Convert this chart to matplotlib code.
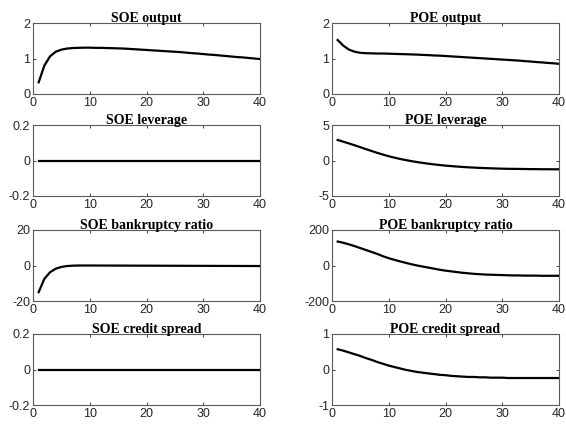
import numpy as np
import matplotlib
matplotlib.use("Agg")
import matplotlib.pyplot as plt

plt.rcParams['axes.unicode_minus'] = False

t = np.arange(1, 41)

soe_output = [0.33, 0.80, 1.06, 1.19, 1.25, 1.28, 1.295, 1.30, 1.305, 1.305,
              1.30, 1.30, 1.295, 1.29, 1.285, 1.28, 1.27, 1.26, 1.25, 1.24,
              1.23, 1.22, 1.21, 1.20, 1.19, 1.18, 1.165, 1.15, 1.14, 1.125,
              1.11, 1.10, 1.085, 1.07, 1.055, 1.04, 1.03, 1.015, 1.00, 0.985]
poe_output = [1.52, 1.36, 1.25, 1.19, 1.16, 1.15, 1.145, 1.14, 1.14, 1.135,
              1.13, 1.125, 1.12, 1.115, 1.11, 1.10, 1.095, 1.085, 1.08, 1.07,
              1.06, 1.05, 1.04, 1.03, 1.02, 1.01, 1.00, 0.99, 0.98, 0.97,
              0.96, 0.95, 0.94, 0.925, 0.915, 0.90, 0.89, 0.875, 0.865, 0.85]
soe_leverage = [0.0] * 40
poe_leverage = [2.89, 2.65, 2.40, 2.14, 1.87, 1.60, 1.33, 1.07, 0.83, 0.60,
                0.40, 0.22, 0.06, -0.09, -0.22, -0.34, -0.45, -0.55, -0.64, -0.72,
                -0.79, -0.85, -0.91, -0.96, -1.00, -1.04, -1.07, -1.10, -1.13, -1.15,
                -1.17, -1.18, -1.19, -1.20, -1.21, -1.22, -1.23, -1.23, -1.24, -1.24]
soe_bankruptcy = [-15.0, -7.5, -3.8, -1.8, -0.8, -0.3, -0.1, 0.0, 0.0, 0.0,
                  -0.01, -0.02, -0.03, -0.04, -0.05, -0.06, -0.07, -0.08, -0.09, -0.10,
                  -0.11, -0.12, -0.13, -0.14, -0.15, -0.16, -0.17, -0.18, -0.19, -0.20,
                  -0.21, -0.22, -0.23, -0.24, -0.25, -0.26, -0.27, -0.28, -0.29, -0.30]
poe_bankruptcy = [135, 128, 119, 109, 98, 87, 76, 65, 52, 41,
                  32, 23, 15, 7, 0, -6, -12, -18, -24, -29,
                  -33, -37, -41, -44, -47, -49, -51, -52, -53, -54,
                  -55, -56, -56, -57, -57, -57, -58, -58, -58, -58]
soe_spread = [0.0] * 40
poe_spread = [0.57, 0.53, 0.48, 0.43, 0.38, 0.32, 0.27, 0.21, 0.16, 0.11,
              0.07, 0.03, -0.01, -0.04, -0.07, -0.09, -0.11, -0.13, -0.15, -0.16,
              -0.18, -0.19, -0.20, -0.21, -0.21, -0.22, -0.22, -0.23, -0.23, -0.23,
              -0.24, -0.24, -0.24, -0.24, -0.24, -0.24, -0.24, -0.24, -0.24, -0.24]

titles = ['SOE output', 'POE output', 'SOE leverage', 'POE leverage',
          'SOE bankruptcy ratio', 'POE bankruptcy ratio',
          'SOE credit spread', 'POE credit spread']
series = [soe_output, poe_output, soe_leverage, poe_leverage,
          soe_bankruptcy, poe_bankruptcy, soe_spread, poe_spread]
yticks = [[0, 1, 2], [0, 1, 2], [-0.2, 0, 0.2], [-5, 0, 5],
          [-20, 0, 20], [-200, 0, 200], [-0.2, 0, 0.2], [-1, 0, 1]]
ylabels = [['0', '1', '2'], ['0', '1', '2'], ['-0.2', '0', '0.2'], ['-5', '0', '5'],
           ['-20', '0', '20'], ['-200', '0', '200'], ['-0.2', '0', '0.2'], ['-1', '0', '1']]

W, H = 566, 424
fig = plt.figure(figsize=(W / 100, H / 100), dpi=100)

lefts = [33, 332]
tops = [23, 125, 230, 334]
aw, ah = 227, 71

for k in range(8):
    row, col = k // 2, k % 2
    ax = fig.add_axes([lefts[col] / W, 1 - (tops[row] + ah) / H, aw / W, ah / H])
    ax.plot(t, series[k], color='k', lw=1.6)
    ax.set_xlim(0, 40)
    ax.set_ylim(yticks[k][0], yticks[k][-1])
    ax.set_xticks([0, 10, 20, 30, 40])
    ax.set_yticks(yticks[k])
    ax.set_yticklabels(ylabels[k])
    ax.tick_params(direction='in', length=2.5, width=0.6, top=True, right=True,
                   labelsize=9, colors='0.15', pad=2)
    for lab in ax.get_xticklabels() + ax.get_yticklabels():
        lab.set_family('Liberation Sans')
    for sp in ax.spines.values():
        sp.set_color('0.35')
        sp.set_linewidth(0.8)
    ax.set_title(titles[k], fontsize=10, fontweight='bold',
                 family='Liberation Serif', pad=1)

fig.savefig('out.png', dpi=100)
